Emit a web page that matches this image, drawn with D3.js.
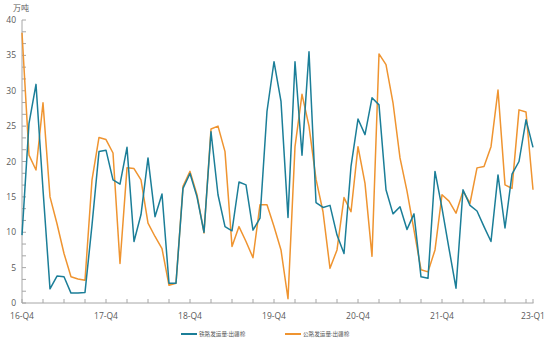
<!DOCTYPE html>
<html>
<head>
<meta charset="utf-8">
<script src="https://cdn.jsdelivr.net/npm/d3@7"></script>
<style>
  body { margin: 0; background: #fff; }
  text { font-family: "Open Sans", "Noto Sans CJK SC", sans-serif; fill: #595959; }
</style>
</head>
<body>
<script>
// monthly, 2016-10 .. 2022-11
var railData = [9.6,25.4,30.9,16,2.0,3.8,3.7,1.4,1.4,1.5,11,21.4,21.6,17.4,16.8,22.0,
  8.7,12.5,20.5,12.2,15.4,2.8,2.8,16.2,18.3,15.0,10.0,24.2,15.3,10.8,
  10.2,17.1,16.7,10.3,12.0,27.1,34.1,28.5,12.1,34.1,20.9,35.5,14.2,13.5,13.8,
  9.6,7.0,19.3,26.0,23.8,29.0,28.0,16.0,12.6,13.6,10.4,12.6,3.7,3.5,18.6,
  13.4,7.7,2.1,16.0,13.8,13.0,10.8,8.7,18.1,10.6,18.2,20.0,25.9,22.0];
var roadData = [38.2,20.9,18.8,28.3,15.0,11.2,7.0,3.7,3.4,3.2,17.4,23.4,23.1,21.2,5.6,19.1,
  19.0,17.4,11.3,9.4,7.7,2.5,2.8,16.5,18.6,15.3,9.9,24.6,25.0,21.4,
  8.0,10.8,8.7,6.4,13.9,13.9,10.8,7.5,0.6,22.1,29.5,25.0,17.5,12.9,4.9,
  7.5,14.9,12.9,22.1,16.9,6.6,35.2,33.7,28.3,20.5,15.8,10.3,4.7,4.4,7.5,
  15.3,14.4,12.7,15.8,14.1,19.1,19.3,22.1,30.1,16.7,16.2,27.3,27.0,16.0];
var seriesNames = ["铁路发运量:出疆棉", "公路发运量:出疆棉"];
var xLabels = ["16-Q4","17-Q4","18-Q4","19-Q4","20-Q4","21-Q4","23-Q1"];
var xLabelIdx = [0,12,24,36,48,60,73];
var yTicks = [0,5,10,15,20,25,30,35,40];

var colors = ["#1b7e98", "#ef9430"];

var svg = d3.select("body").append("svg")
        .attr("width", 550)
        .attr("height", 342);

var x = d3.scaleLinear().domain([0, railData.length - 1]).range([22, 533]);
var y = d3.scaleLinear().domain([0, 40]).range([303, 20]);

// axes
svg.append("line").attr("x1", 22).attr("x2", 22).attr("y1", 20).attr("y2", 303)
        .attr("stroke", "#a6a6a6").attr("stroke-width", 1);
svg.append("line").attr("x1", 22).attr("x2", 533.5).attr("y1", 303).attr("y2", 303)
        .attr("stroke", "#a6a6a6").attr("stroke-width", 1);

// y ticks every 5/3 units, labels every 5
var yMinor = d3.range(0, 25).map(function(i){ return i * 40 / 24; });
svg.selectAll("line.ytick").data(yMinor).enter().append("line")
        .attr("class", "ytick")
        .attr("x1", 22).attr("x2", 26)
        .attr("y1", function(d){ return y(d); })
        .attr("y2", function(d){ return y(d); })
        .attr("stroke", "#a6a6a6");
svg.selectAll("text.ylab").data(yTicks).enter().append("text")
        .attr("class", "ylab")
        .attr("x", 16)
        .attr("y", function(d){ return y(d) + 3; })
        .attr("text-anchor", "end")
        .attr("font-size", 8.5)
        .text(function(d){ return d; });

// x ticks every quarter plus the end
var xTicks = d3.range(0, 73, 3).concat([73]);
svg.selectAll("line.xtick").data(xTicks).enter().append("line")
        .attr("class", "xtick")
        .attr("x1", function(d){ return x(d); })
        .attr("x2", function(d){ return x(d); })
        .attr("y1", 303).attr("y2", 299)
        .attr("stroke", "#a6a6a6");
svg.selectAll("text.xlab").data(xLabels).enter().append("text")
        .attr("class", "xlab")
        .attr("x", function(d,i){ return x(xLabelIdx[i]); })
        .attr("y", 319)
        .attr("text-anchor", "middle")
        .attr("font-size", 8.5)
        .text(function(d){ return d; });

svg.append("text").attr("x", 21).attr("y", 11)
        .attr("text-anchor", "middle")
        .attr("font-size", 8)
        .text("万吨");

// lines
var line = d3.line()
        .x(function(d,i){ return x(i); })
        .y(function(d){ return y(d); });

[roadData, railData].forEach(function(data){
    var c = data === railData ? colors[0] : colors[1];
    svg.append("path")
            .datum(data)
            .attr("d", line)
            .attr("fill", "none")
            .attr("stroke", c)
            .attr("stroke-width", 1.5)
            .attr("stroke-linejoin", "round");
});

// legend
var legX = [181, 285];
var leg = svg.selectAll("g.leg").data(seriesNames).enter().append("g")
        .attr("class", "leg")
        .attr("transform", function(d,i){ return "translate(" + legX[i] + ",334)"; });
leg.append("line").attr("x1", 0).attr("x2", 16).attr("y1", 0).attr("y2", 0)
        .attr("stroke", function(d,i){ return colors[i]; })
        .attr("stroke-width", 2);
leg.append("text").attr("x", 18).attr("y", 2.2)
        .attr("font-size", 5.6)
        .attr("font-family", "Noto Sans CJK SC")
        .text(function(d){ return d; });
</script>
</body>
</html>
